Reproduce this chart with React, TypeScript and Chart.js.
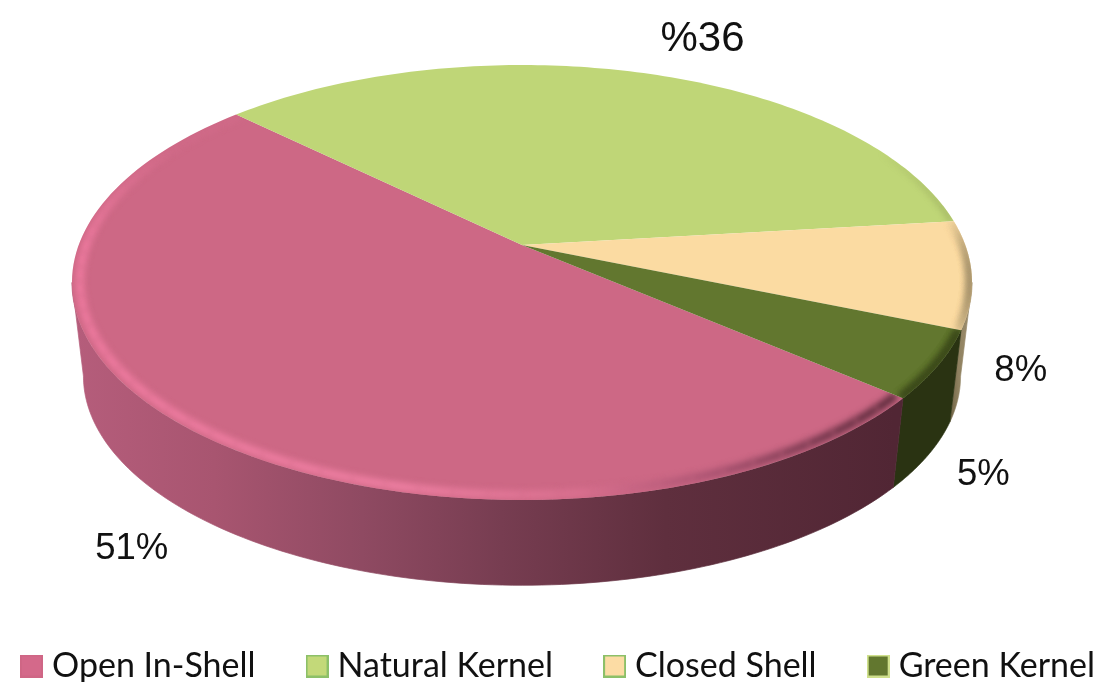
import React, { useEffect, useRef } from "react";
import { Chart, registerables } from "chart.js";

Chart.register(...registerables);

const categories = ["Open In-Shell", "Natural Kernel", "Closed Shell", "Green Kernel"];
const shares = [51, 36, 8, 5];
const valueLabels = ["51%", "%36", "8%", "5%"];
const topColors = ["#cd6885", "#bfd677", "#fbdba2", "#62772f"];
const legendFills = ["#d4698a", "#c3d979", "#fcdca4", "#62772f"];
const legendBorders = ["#cf6685", "#8cc068", "#8cc068", "#cfe08c"];
const labelOffsets = [[-50, 124], [59, -34], [49, 97], [45, 110]];
const labelSizes = [36.5, 42, 36.5, 36.5];

// perspective disc geometry
const CX = 522;
const TOP = { cy: 245, a: 443.3, b: 211 };
const BASE = { cy: 340, a: 432, b: 203 };
const K = 0.1724;
const TWO_PI = Math.PI * 2;
const EDGE = Math.asin(K); // where the outline of the disc turns

// legend row
const LEGEND_GAP = 58;
const LEGEND_START = 28;
const LEGEND_TOP = 591;

function project(theta: number, ring: { cy: number; a: number; b: number }, s = 1) {
  const u = Math.cos(theta) * s;
  const v = Math.sin(theta) * s;
  const w = 1 - K * v;
  return { x: CX + (ring.a * u) / w, y: ring.cy + (ring.b * v) / w };
}

function arcPath(ctx: CanvasRenderingContext2D, a0: number, a1: number, ring: any, s = 1, move = true) {
  const n = 120;
  for (let i = 0; i <= n; i++) {
    const p = project(a0 + ((a1 - a0) * i) / n, ring, s);
    if (i === 0 && move) ctx.moveTo(p.x, p.y);
    else ctx.lineTo(p.x, p.y);
  }
}

function hGrad(ctx: CanvasRenderingContext2D, x0: number, x1: number, stops: [number, string][]) {
  const g = ctx.createLinearGradient(x0, 0, x1, 0);
  stops.forEach(([o, c]) => g.addColorStop(o, c));
  return g;
}

function wallPaint(ctx: CanvasRenderingContext2D, i: number) {
  if (i === 0)
    return hGrad(ctx, 75, 895, [
      [0, "#b55d7b"],
      [0.17, "#a85570"],
      [0.35, "#8f4a62"],
      [0.52, "#773d51"],
      [0.72, "#5f2f3e"],
      [1, "#512634"],
    ]);
  if (i === 1) return "#8a9c55";
  if (i === 2)
    return hGrad(ctx, 945, 972, [
      [0, "#5e5236"],
      [0.5, "#8f8160"],
      [1, "#a09070"],
    ]);
  return "#2a3312";
}

function rimPaint(ctx: CanvasRenderingContext2D, i: number) {
  if (i === 0)
    return hGrad(ctx, 72, 895, [
      [0, "#ee7a9f"],
      [0.4, "#ee7fa2"],
      [0.62, "#d9708f"],
      [0.78, "#a85270"],
      [0.92, "#6f3449"],
      [1, "#5a2a3a"],
    ]);
  if (i === 1)
    return hGrad(ctx, 880, 950, [
      [0, "rgba(141,156,85,0)"],
      [1, "rgba(141,156,85,0.9)"],
    ]);
  if (i === 2)
    return hGrad(ctx, 940, 972, [
      [0, "#fbdba2"],
      [0.45, "#e0c490"],
      [1, "#6f6348"],
    ]);
  return "#2f3a15";
}

const legendRow = {
  id: "legendRow",
  afterLayout(chart: any) {
    const l = chart.legend;
    l.right = 3000;
    l.left = 2 * LEGEND_START - LEGEND_GAP - l.right + l.lineWidths[0];
    l.top = LEGEND_TOP;
  },
};

const disc3d = {
  id: "disc3d",
  beforeDatasetsDraw(chart: any) {
    const ctx: CanvasRenderingContext2D = chart.ctx;
    const arcs = chart.getDatasetMeta(0).data;
    ctx.save();
    // side wall: only the part of each slice that faces the viewer
    [1, 2, 3, 0].forEach((i) => {
      const sweep = arcs[i].endAngle - arcs[i].startAngle;
      const end = ((arcs[i].endAngle % TWO_PI) + TWO_PI) % TWO_PI;
      const a0 = Math.max(end - sweep, EDGE);
      const a1 = Math.min(end, Math.PI - EDGE);
      if (a1 <= a0) return;
      ctx.beginPath();
      arcPath(ctx, a0, a1, TOP);
      arcPath(ctx, a1, a0, BASE, 1, false);
      ctx.closePath();
      const paint = wallPaint(ctx, i);
      ctx.fillStyle = paint;
      ctx.strokeStyle = paint;
      ctx.lineWidth = 0.7;
      ctx.fill();
      ctx.stroke();
    });
    // top faces with soft bevel
    arcs.forEach((arc: any, i: number) => {
      const { startAngle, endAngle } = arc;
      ctx.save();
      ctx.beginPath();
      ctx.moveTo(CX, TOP.cy);
      arcPath(ctx, startAngle, endAngle, TOP, 1, false);
      ctx.closePath();
      ctx.fillStyle = topColors[i];
      ctx.fill();
      ctx.clip();
      ctx.filter = "blur(3px)";
      ctx.strokeStyle = rimPaint(ctx, i);
      ctx.lineWidth = i === 0 ? 8 : i === 1 ? 3 : 7;
      const s = i === 0 ? 0.983 : 0.995;
      const steps = 48;
      for (let j = 0; j < steps; j++) {
        const t0 = startAngle + ((endAngle - startAngle) * j) / steps;
        const t1 = startAngle + ((endAngle - startAngle) * (j + 1)) / steps;
        // the highlight fades out towards the back of the disc
        const fade = i === 0 ? Math.min(1, Math.max(0.12, (Math.sin((t0 + t1) / 2) + 0.55) / 0.55)) : 1;
        ctx.globalAlpha = fade;
        ctx.beginPath();
        arcPath(ctx, t0, t1 + 0.002, TOP, s);
        ctx.stroke();
      }
      ctx.restore();
    });
    // value labels
    ctx.fillStyle = "#111111";
    ctx.textAlign = "center";
    ctx.textBaseline = "middle";
    arcs.forEach((arc: any, i: number) => {
      const p = project((arc.startAngle + arc.endAngle) / 2, TOP);
      ctx.font = `${labelSizes[i]}px "Liberation Sans", Arial, sans-serif`;
      ctx.fillText(valueLabels[i], p.x + labelOffsets[i][0], p.y + labelOffsets[i][1]);
    });
    ctx.restore();
    return false;
  },
};

function swatch(fill: string, border: string) {
  const c = document.createElement("canvas");
  c.width = 23;
  c.height = 23;
  const g = c.getContext("2d")!;
  g.fillStyle = fill;
  g.fillRect(0, 0, 23, 23);
  g.strokeStyle = border;
  g.lineWidth = 2;
  g.strokeRect(1, 1, 21, 21);
  return c;
}

export default function App() {
  const ref = useRef<HTMLCanvasElement>(null);
  useEffect(() => {
    document.body.style.margin = "0";
    document.body.style.background = "#ffffff";
    const chart = new Chart(ref.current!, {
      type: "pie",
      data: {
        labels: categories,
        datasets: [{ data: shares, backgroundColor: topColors, borderWidth: 0 }],
      },
      plugins: [disc3d, legendRow],
      options: {
        responsive: false,
        animation: false,
        rotation: 130.2,
        plugins: {
          tooltip: { enabled: false },
          legend: {
            position: "bottom",
            labels: {
              color: "#111111",
              font: { family: "Lato, 'Noto Sans', sans-serif", size: 34 },
              usePointStyle: true,
              pointStyleWidth: 7,
              boxHeight: 23,
              padding: LEGEND_GAP,
              generateLabels: () =>
                categories.map((text, i) => ({
                  text,
                  index: i,
                  hidden: false,
                  fillStyle: legendFills[i],
                  strokeStyle: legendBorders[i],
                  pointStyle: swatch(legendFills[i], legendBorders[i]),
                  fontColor: "#111111",
                  lineWidth: 0,
                })),
            },
          },
        },
      },
    } as any);
    return () => chart.destroy();
  }, []);
  return (
    <div style={{ width: 1100, height: 682 }}>
      <canvas ref={ref} width={1100} height={682} style={{ display: "block" }} />
    </div>
  );
}
